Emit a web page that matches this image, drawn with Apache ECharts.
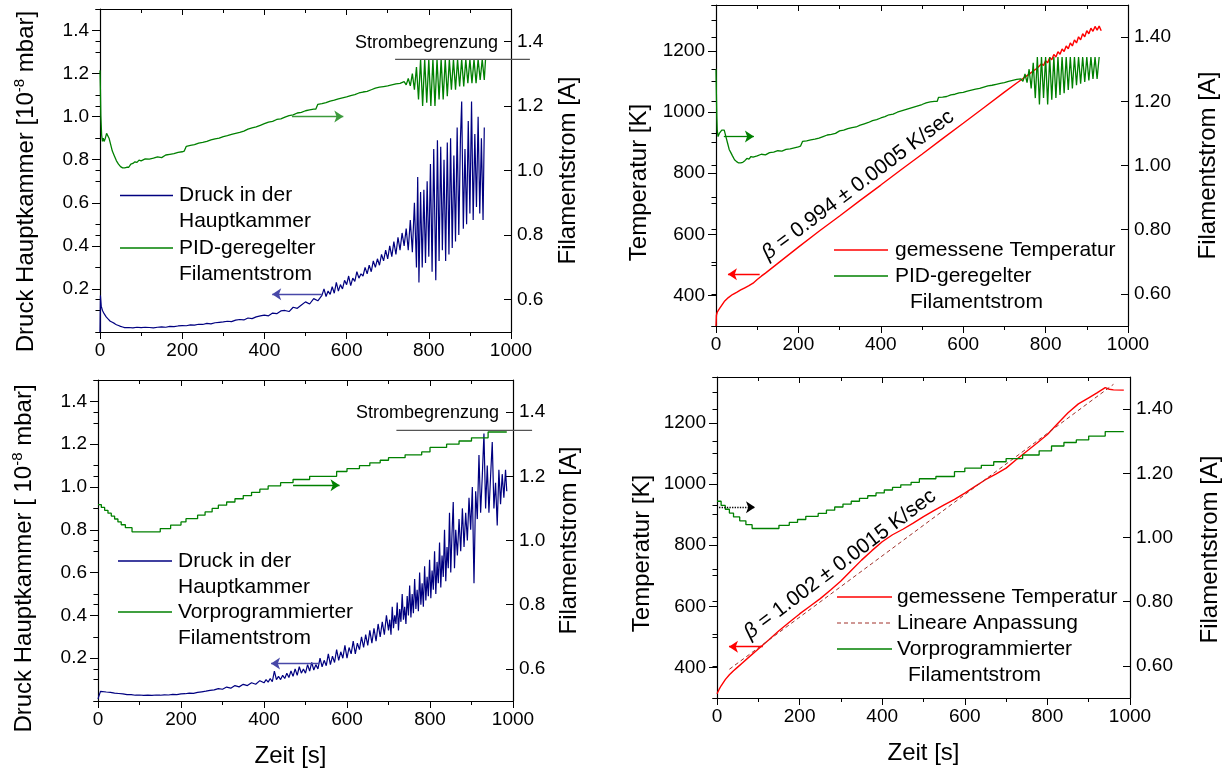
<!DOCTYPE html>
<html><head><meta charset="utf-8">
<script src="https://cdn.jsdelivr.net/npm/echarts@6/dist/echarts.min.js"></script>
<style>html,body{margin:0;padding:0;background:#fff}#c{width:1230px;height:776px}</style>
</head><body><div id="c"></div>
<script>
// ===================== DATA =====================
// time [s], pressure [1e-8 mbar] (top-left, PID regulated)
const tlPressure = [[0,0],[1,0.17],[3,0.12],[6,0.1],[10,0.085],[15,0.07],[20,0.06],[25,0.05],[30,0.045],[35,0.04],[40,0.034],[45,0.03],[50,0.026],[55,0.023],[60,0.02],[70,0.021],[80,0.019],[90,0.022],[100,0.02],[110,0.022],[120,0.021],[130,0.019],[140,0.022],[150,0.024],[160,0.022],[170,0.026],[180,0.025],[190,0.028],[200,0.03],[210,0.029],[220,0.033],[230,0.032],[240,0.036],[250,0.035],[260,0.04],[270,0.038],[280,0.043],[290,0.045],[300,0.047],[310,0.05],[320,0.048],[330,0.055],[340,0.058],[350,0.056],[360,0.065],[370,0.062],[380,0.07],[390,0.075],[400,0.078],[410,0.075],[420,0.088],[430,0.085],[440,0.098],[450,0.1],[460,0.095],[470,0.115],[480,0.11],[490,0.125],[500,0.14],[510,0.13],[520,0.155],[530,0.145],[540,0.17],[545,0.2],[550,0.165],[555,0.19],[560,0.175],[565,0.21],[570,0.18],[575,0.23],[580,0.19],[585,0.22],[590,0.2],[595,0.24],[600,0.22],[605,0.26],[610,0.215],[615,0.25],[620,0.235],[625,0.28],[630,0.25],[635,0.27],[640,0.26],[645,0.3],[650,0.27],[655,0.31],[660,0.28],[665,0.33],[670,0.3],[675,0.34],[680,0.31],[685,0.36],[690,0.33],[695,0.38],[700,0.34],[705,0.4],[710,0.35],[715,0.42],[720,0.36],[725,0.44],[730,0.38],[735,0.46],[740,0.4],[745,0.48],[750,0.38],[755,0.52],[760,0.37],[765,0.6],[770,0.3],[773,0.72],[776,0.23],[780,0.65],[784,0.3],[788,0.66],[792,0.32],[796,0.7],[800,0.35],[804,0.78],[808,0.28],[812,0.85],[817,0.24],[821,0.89],[825,0.33],[829,0.86],[833,0.38],[837,0.8],[841,0.33],[845,0.88],[849,0.36],[853,0.9],[857,0.39],[861,0.82],[865,0.42],[869,0.95],[873,0.45],[877,0.9],[880,1.07],[884,0.48],[888,0.85],[892,0.5],[896,0.98],[900,0.55],[904,1.07],[908,0.52],[912,0.92],[916,0.58],[920,1.0],[924,0.55],[928,0.9],[932,0.52],[935,0.95]];
// time [s], filament current [A] (top-left, PID regulated)
const tlCurrent = [[0,1.31],[1,1.25],[2,1.17],[4,1.11],[6,1.09],[8,1.1],[10,1.09],[13,1.1],[16,1.115],[19,1.12],[22,1.1],[26,1.08],[30,1.06],[35,1.045],[40,1.03],[45,1.02],[50,1.012],[55,1.008],[60,1.008],[65,1.01],[70,1.01],[75,1.02],[80,1.022],[85,1.027],[90,1.025],[95,1.032],[100,1.03],[110,1.036],[120,1.035],[130,1.038],[140,1.042],[150,1.04],[160,1.048],[170,1.05],[180,1.052],[190,1.056],[200,1.058],[205,1.06],[210,1.075],[220,1.078],[230,1.08],[240,1.085],[250,1.087],[260,1.09],[270,1.095],[280,1.098],[290,1.1],[300,1.105],[310,1.108],[320,1.112],[330,1.115],[340,1.118],[350,1.122],[360,1.128],[370,1.132],[380,1.135],[390,1.14],[400,1.145],[410,1.15],[420,1.152],[430,1.158],[440,1.16],[450,1.165],[460,1.17],[470,1.172],[480,1.178],[490,1.18],[500,1.185],[510,1.188],[520,1.19],[525,1.19],[530,1.205],[540,1.207],[550,1.21],[560,1.215],[570,1.218],[580,1.222],[590,1.225],[600,1.228],[610,1.232],[620,1.235],[630,1.24],[640,1.243],[650,1.245],[660,1.25],[670,1.255],[680,1.258],[690,1.26],[700,1.262],[710,1.265],[720,1.268],[730,1.27],[740,1.275],[745,1.265],[750,1.285],[755,1.262],[760,1.3],[765,1.25],[770,1.32],[775,1.22],[780,1.344],[785,1.2],[790,1.344],[795,1.21],[800,1.344],[805,1.2],[810,1.344],[815,1.2],[820,1.344],[825,1.22],[830,1.344],[835,1.22],[840,1.344],[845,1.23],[850,1.344],[855,1.25],[860,1.344],[865,1.25],[870,1.344],[875,1.26],[880,1.344],[885,1.26],[890,1.344],[895,1.27],[900,1.344],[905,1.27],[910,1.344],[915,1.27],[920,1.344],[925,1.28],[930,1.344],[935,1.28],[938,1.344]];
// time [s], temperature [K] (top-right)
const trTemperature = [[0,300],[1,335],[3,345],[6,352],[10,360],[15,370],[20,380],[30,393],[40,403],[50,410],[60,418],[70,425],[80,432],[90,440],[100,452],[110,463],[120,473],[150,505],[200,558],[250,610],[300,660],[350,711],[400,761],[450,812],[500,862],[550,913],[600,963],[650,1014],[700,1065],[730,1095],[760,1124],[780,1144],[790,1158],[795,1152],[800,1168],[805,1161],[810,1178],[815,1171],[820,1188],[825,1180],[830,1197],[835,1189],[840,1206],[845,1198],[850,1216],[855,1207],[860,1226],[865,1216],[870,1236],[875,1226],[880,1246],[885,1236],[890,1256],[895,1246],[900,1266],[905,1256],[910,1274],[915,1264],[920,1280],[925,1268],[930,1281],[935,1266]];
// time [s], filament current [A] (top-right)
const trCurrent = [[0,1.3],[1,1.22],[2,1.15],[3,1.11],[5,1.09],[8,1.1],[11,1.095],[14,1.11],[17,1.116],[20,1.11],[24,1.09],[28,1.07],[32,1.05],[36,1.04],[40,1.03],[45,1.018],[50,1.012],[55,1.008],[60,1.008],[65,1.01],[70,1.015],[75,1.022],[80,1.02],[85,1.028],[90,1.026],[100,1.03],[110,1.035],[120,1.033],[130,1.04],[140,1.042],[150,1.046],[160,1.045],[170,1.05],[180,1.052],[190,1.055],[200,1.058],[205,1.06],[210,1.075],[220,1.077],[230,1.08],[240,1.082],[250,1.085],[260,1.09],[270,1.095],[280,1.097],[290,1.1],[300,1.108],[310,1.11],[320,1.115],[330,1.118],[340,1.12],[350,1.126],[360,1.13],[370,1.134],[380,1.14],[390,1.143],[400,1.148],[410,1.152],[420,1.158],[430,1.16],[440,1.166],[450,1.17],[460,1.174],[470,1.178],[480,1.182],[490,1.186],[500,1.19],[510,1.195],[520,1.198],[530,1.2],[537,1.2],[540,1.212],[550,1.213],[560,1.215],[570,1.22],[580,1.222],[590,1.226],[600,1.228],[610,1.232],[620,1.235],[630,1.238],[640,1.24],[650,1.244],[660,1.248],[670,1.25],[680,1.253],[690,1.256],[700,1.258],[710,1.262],[720,1.265],[730,1.268],[740,1.27],[745,1.262],[750,1.285],[755,1.258],[760,1.3],[765,1.24],[770,1.32],[775,1.21],[780,1.338],[785,1.19],[790,1.338],[795,1.21],[800,1.338],[805,1.19],[810,1.338],[815,1.205],[820,1.338],[825,1.21],[830,1.338],[835,1.22],[840,1.338],[845,1.225],[850,1.338],[855,1.235],[860,1.338],[865,1.24],[870,1.338],[875,1.25],[880,1.338],[885,1.255],[890,1.338],[895,1.26],[900,1.338],[905,1.265],[910,1.338],[915,1.27],[920,1.338],[925,1.27],[930,1.338]];
// time [s], pressure [1e-8 mbar] (bottom-left, preprogrammed)
const blPressure = [[0,0.01],[4,0.01],[6,0.045],[10,0.044],[20,0.042],[30,0.04],[40,0.037],[50,0.035],[60,0.033],[70,0.03],[80,0.03],[90,0.027],[100,0.028],[110,0.026],[120,0.027],[130,0.026],[140,0.028],[150,0.027],[160,0.029],[170,0.028],[180,0.031],[190,0.03],[200,0.033],[210,0.034],[220,0.037],[230,0.036],[240,0.04],[250,0.043],[260,0.046],[270,0.05],[280,0.052],[290,0.058],[300,0.055],[310,0.065],[320,0.06],[330,0.072],[340,0.066],[350,0.078],[360,0.072],[370,0.085],[380,0.078],[390,0.095],[400,0.085],[405,0.1],[410,0.088],[415,0.105],[420,0.09],[425,0.14],[430,0.1],[435,0.115],[440,0.1],[445,0.12],[450,0.105],[455,0.13],[460,0.11],[465,0.14],[470,0.115],[475,0.15],[480,0.12],[485,0.16],[490,0.13],[495,0.15],[500,0.13],[505,0.17],[510,0.14],[515,0.18],[520,0.145],[525,0.17],[530,0.15],[535,0.2],[540,0.16],[545,0.19],[550,0.165],[555,0.22],[560,0.17],[565,0.21],[570,0.18],[575,0.24],[580,0.19],[585,0.23],[590,0.2],[595,0.26],[600,0.2],[605,0.25],[610,0.22],[615,0.28],[620,0.22],[625,0.27],[630,0.24],[635,0.3],[640,0.25],[645,0.31],[650,0.26],[655,0.33],[660,0.27],[665,0.34],[670,0.28],[675,0.36],[680,0.3],[685,0.37],[690,0.31],[695,0.4],[700,0.33],[703,0.38],[706,0.31],[709,0.44],[712,0.34],[715,0.4],[718,0.36],[721,0.46],[724,0.33],[727,0.43],[730,0.37],[733,0.5],[736,0.38],[739,0.44],[742,0.36],[745,0.49],[748,0.4],[751,0.54],[754,0.39],[757,0.5],[760,0.41],[763,0.57],[766,0.43],[769,0.52],[772,0.42],[775,0.6],[778,0.45],[781,0.55],[784,0.44],[787,0.63],[790,0.47],[793,0.58],[796,0.49],[799,0.66],[802,0.48],[805,0.61],[808,0.52],[811,0.7],[814,0.5],[817,0.65],[820,0.55],[823,0.74],[826,0.53],[829,0.68],[832,0.58],[835,0.8],[838,0.56],[841,0.72],[844,0.62],[847,0.88],[850,0.6],[853,0.78],[856,0.93],[859,0.62],[862,0.8],[866,0.68],[870,0.85],[874,0.7],[878,0.9],[882,0.72],[886,0.88],[890,0.75],[894,0.95],[898,0.8],[902,1.0],[906,0.55],[910,0.98],[914,0.85],[918,1.15],[922,0.88],[926,1.05],[930,1.25],[934,0.9],[938,1.1],[942,0.88],[946,1.05],[950,1.21],[954,0.9],[958,1.02],[962,0.82],[966,1.08],[970,0.92],[974,1.06],[978,0.95],[982,1.08],[985,0.98]];
// step start time [s], filament current [A] (bottom-left, preprogrammed)
const blCurrent = [[0,1.112],[8,1.103],[16,1.094],[24,1.085],[32,1.076],[40,1.067],[48,1.058],[56,1.049],[66,1.04],[82,1.027],[150,1.037],[175,1.048],[200,1.058],[212,1.068],[240,1.079],[258,1.089],[275,1.1],[290,1.11],[310,1.12],[330,1.13],[350,1.14],[370,1.15],[390,1.16],[410,1.17],[440,1.18],[470,1.19],[510,1.2],[575,1.215],[600,1.224],[630,1.233],[655,1.242],[680,1.25],[700,1.258],[740,1.267],[780,1.276],[800,1.29],[840,1.3],[870,1.31],[900,1.32],[940,1.338],[985,1.338]];
// time [s], temperature [K] (bottom-right)
const brTemperature = [[0,314],[5,328],[10,340],[20,360],[30,376],[40,389],[50,401],[60,413],[80,437],[100,460],[125,490],[150,520],[175,548],[200,575],[225,600],[250,625],[275,653],[300,683],[325,717],[350,751],[375,782],[400,811],[425,834],[450,852],[475,872],[500,893],[525,913],[550,932],[575,950],[600,970],[625,992],[650,1014],[675,1032],[700,1052],[725,1080],[750,1107],[775,1134],[800,1162],[825,1198],[850,1233],[875,1262],[900,1282],[920,1298],[940,1315],[950,1310],[960,1308],[985,1307]];
// linear fit (beta = 1.002 K/s)
const brFit = [[30,394],[960,1326]];
// step start time [s], filament current [A] (bottom-right)
const brCurrent = [[0,1.113],[10,1.1],[20,1.088],[30,1.076],[40,1.064],[55,1.052],[70,1.04],[85,1.028],[150,1.038],[175,1.047],[195,1.056],[215,1.066],[245,1.075],[265,1.085],[285,1.095],[305,1.104],[325,1.113],[345,1.122],[365,1.13],[385,1.139],[405,1.148],[425,1.156],[445,1.164],[470,1.172],[490,1.183],[530,1.19],[575,1.205],[600,1.216],[640,1.225],[670,1.236],[700,1.246],[740,1.257],[780,1.27],[810,1.285],[840,1.296],[870,1.304],[900,1.316],[940,1.33],[985,1.33]];
// current limit ("Strombegrenzung") reference lines: [xStart, xEnd, current]
const limitTL = [718, 1046, 1.344];
const limitBL = [719, 1046, 1.343];
// heating-rate annotations: [x, T]
const betaTR = {x:345, y:761, text:'0.994 ± 0.0005 K/sec'};
const betaBR = {x:298, y:737, text:'1.002 ± 0.0015 K/sec'};

// ===================== STYLE / LAYOUT =====================
const FONT = "'Liberation Sans', Arial, sans-serif";
const BLUE = '#000080', GREEN = '#008000', RED = '#ff0000', FIT = '#a0302a';
const grids = [
  {left:100, top:9, width:411, height:323},
  {left:716, top:5, width:412, height:321},
  {left:98, top:380, width:415, height:321},
  {left:717, top:377, width:413, height:321}
];
const TICKFS = 19;

function xAxes(g, withName) {
  return [{
    type:'value', gridIndex:g, position:'bottom', min:0, max:1000, interval:200,
    axisLine:{show:true, onZero:false, lineStyle:{color:'#000', width:1.2}},
    axisTick:{show:true, inside:false, length:7, lineStyle:{color:'#000', width:1}},
    minorTick:{show:true, splitNumber:2, length:4, lineStyle:{color:'#000', width:1}},
    axisLabel:{color:'#000', fontFamily:FONT, fontSize:TICKFS, margin:9, formatter: v => String(v)},
    splitLine:{show:false}, minorSplitLine:{show:false},
    name: withName ? 'Zeit [s]' : '', nameLocation:'middle', nameGap:43,
    nameTextStyle:{color:'#000', fontFamily:FONT, fontSize:24, padding: g===2 ? [0,30,0,0] : 0}
  },{
    type:'value', gridIndex:g, position:'top', min:0, max:1000, interval:200,
    axisLine:{show:true, onZero:false, lineStyle:{color:'#000', width:1.2}},
    axisTick:{show:true, inside:true, length:6, lineStyle:{color:'#000', width:1}},
    minorTick:{show:true, splitNumber:2, length:4, lineStyle:{color:'#000', width:1}},
    axisLabel:{show:false}, splitLine:{show:false}
  }];
}
function nameStyle(pad) {
  return {color:'#000', fontFamily:FONT, fontSize:24, padding:[0,pad,0,0],
    rich:{n:{fontFamily:FONT, fontSize:24, color:'#000', lineHeight:28},
          s:{fontFamily:FONT, fontSize:15, color:'#000', verticalAlign:'top', lineHeight:16}}};
}
function yLeft(g, kind, name, gap, pad) {
  const isP = kind === 'p';
  const main = {
    type:'value', gridIndex:g, position:'left',
    min: isP ? 0 : 300, max: isP ? 1.5 : 1350,
    axisLine:{show:true, onZero:false, lineStyle:{color:'#000', width:1.2}},
    axisTick:{show:true, inside:false, length:8, lineStyle:{color:'#000', width:1}},
    axisLabel:{color:'#000', fontFamily:FONT, fontSize:TICKFS, margin:11, showMinLabel:false, showMaxLabel:false,
      formatter: v => isP ? v.toFixed(1) : String(Math.round(v))},
    splitLine:{show:false},
    name:name, nameLocation:'middle', nameRotate:90, nameGap:gap, nameTextStyle:nameStyle(pad)
  };
  if (isP) main.interval = 0.2; else main.splitNumber = 5;
  const minor = {
    type:'value', gridIndex:g, position:'left', min:main.min, max:main.max, interval: isP ? 0.1 : 100,
    axisLine:{show:false}, axisLabel:{show:false}, splitLine:{show:false},
    axisTick:{show:true, inside:false, length:4.5, lineStyle:{color:'#000', width:1}}
  };
  return [main, minor];
}
function yRight(g, decimals, gap, pad) {
  const main = {
    type:'value', gridIndex:g, position:'right', min:0.5, max:1.5, splitNumber:5,
    axisLine:{show:true, onZero:false, lineStyle:{color:'#000', width:1.2}},
    axisTick:{show:true, inside:true, length:7, lineStyle:{color:'#000', width:1}},
    axisLabel:{color:'#000', fontFamily:FONT, fontSize:TICKFS, margin:6, showMinLabel:false, showMaxLabel:false,
      formatter: v => v.toFixed(decimals)},
    splitLine:{show:false},
    name:'Filamentstrom [A]', nameLocation:'middle', nameRotate:90, nameGap:gap,
    nameTextStyle:{color:'#000', fontFamily:FONT, fontSize:24, padding:[0,pad,0,0]}
  };
  const minor = {
    type:'value', gridIndex:g, position:'right', min:0.5, max:1.5, interval:0.1,
    axisLine:{show:false}, axisLabel:{show:false}, splitLine:{show:false},
    axisTick:{show:true, inside:true, length:4.5, lineStyle:{color:'#000', width:1}}
  };
  return [main, minor];
}

const xAxis = [].concat(xAxes(0,false), xAxes(1,false), xAxes(2,true), xAxes(3,true));
const yAxis = [].concat(
  yLeft(0,'p','{n|Druck Hauptkammer [10}{s|-8}{n| mbar]}',60,22), yRight(0,1,45,0),
  yLeft(1,'t','Temperatur [K]',65,34), yRight(1,2,68,0),
  yLeft(2,'p','{n|Druck Hauptkammer [ 10}{s|-8}{n| mbar]}',60,36), yRight(2,1,44,0),
  yLeft(3,'t','Temperatur [K]',63,32), yRight(3,2,68,24)
);
// axis indices: x bottom = 2g ; y left = 4g ; y right = 4g+2
function arrow(from, to, color, type) {
  return {silent:true, symbol:['none','arrow'], symbolSize:9, label:{show:false}, animation:false,
    lineStyle:{color:color, width:1.3, type:type||'solid'}, itemStyle:{color:color},
    emphasis:{disabled:true},
    data:[[{coord:from},{coord:to}]]};
}
function line(name, g, right, data, color, width, extra) {
  return Object.assign({name, type:'line', xAxisIndex:2*g, yAxisIndex: right ? 4*g+2 : 4*g,
    data, showSymbol:false, symbol:'none', lineStyle:{color, width}, itemStyle:{color},
    emphasis:{disabled:true}, animation:false}, extra||{});
}
const series = [
  line('Druck in der Hauptkammer', 0, false, tlPressure, BLUE, 1.2, {markLine: arrow([540,0.175],[419,0.175],'#4848a8')}),
  line('PID-geregelter Filamentstrom', 0, true, tlCurrent, GREEN, 1.3, {markLine: arrow([467,1.167],[592,1.167],'#3c9a3c')}),
  line('gemessene Temperatur', 1, false, trTemperature, RED, 1.4, {markLine: arrow([106,469],[29,469],RED)}),
  line('PID-geregelter Filamentstrom ', 1, true, trCurrent, GREEN, 1.3, {markLine: arrow([19,1.09],[92,1.09],GREEN)}),
  line('Druck in der Hauptkammer ', 2, false, blPressure, BLUE, 1.2, {markLine: arrow([533,0.175],[417,0.175],'#4848a8')}),
  line('Vorprogrammierter Filamentstrom', 2, true, blCurrent, GREEN, 1.3, {step:'end', markLine: arrow([470,1.172],[582,1.172],GREEN)}),
  line('gemessene Temperatur ', 3, false, brTemperature, RED, 1.4, {markLine: arrow([111,468],[29,468],RED)}),
  line('Lineare Anpassung', 3, false, brFit, FIT, 1, {lineStyle:{color:FIT, width:1, type:[4,3]}}),
  line('Vorprogrammierter Filamentstrom ', 3, true, brCurrent, GREEN, 1.3, {step:'end', markLine: arrow([5,1.094],[92,1.094],'#000','dotted')})
];

const chart = echarts.init(document.getElementById('c'));
chart.setOption({animation:false, backgroundColor:'#fff', grid:grids, xAxis, yAxis, series});

// ===================== ANNOTATIONS / LEGENDS =====================
const LFS = 21;
function txt(x, y, text, style) {
  return {type:'text', x, y, silent:true,
    style:Object.assign({text, fill:'#000', fontFamily:FONT, fontSize:LFS, align:'left', verticalAlign:'middle'}, style||{})};
}
function seg(x1, x2, y, color, dash) {
  return {type:'line', silent:true, shape:{x1, y1:y, x2, y2:y},
    style:{stroke:color, lineWidth: dash ? 1 : 1.5, lineDash: dash || null}};
}
const g = [];
// current-limit lines in data coordinates of the right axis (extend beyond the frame)
[[0, limitTL], [2, limitBL]].forEach(([gi, L]) => {
  const a = chart.convertToPixel({xAxisIndex:2*gi, yAxisIndex:4*gi+2}, [L[0], L[2]]);
  const b = chart.convertToPixel({xAxisIndex:2*gi, yAxisIndex:4*gi+2}, [L[1], L[2]]);
  g.push({type:'line', silent:true, z:10, shape:{x1:a[0], y1:a[1], x2:b[0], y2:b[1]}, style:{stroke:'#555', lineWidth:1.3}});
});
// top-left legend
g.push(seg(120,173,195.5,BLUE), seg(120,173,248,GREEN));
g.push(txt(179,195.5,'Druck in der'), txt(179,221,'Hauptkammer'), txt(179,248,'PID-geregelter'), txt(179,274,'Filamentstrom'));
g.push(txt(498,43,'Strombegrenzung',{align:'right', fontSize:18}));
// top-right legend
g.push(seg(834,888,250,RED), seg(834,888,276,GREEN));
g.push(txt(895,250,'gemessene Temperatur'), txt(895,276,'PID-geregelter'), txt(910,302,'Filamentstrom'));
// bottom-left legend
g.push(seg(118,172,561,BLUE), seg(118,172,612,GREEN));
g.push(txt(178,561,'Druck in der'), txt(178,587,'Hauptkammer'), txt(178,612,'Vorprogrammierter'), txt(178,638,'Filamentstrom'));
g.push(txt(499,413,'Strombegrenzung',{align:'right', fontSize:18}));
// bottom-right legend
g.push(seg(837,892,597,RED), seg(837,892,623,FIT,[4,3]), seg(837,892,649,GREEN));
g.push(txt(897,597,'gemessene Temperatur'), txt(897,623,'Lineare Anpassung'), txt(897,649,'Vorprogrammierter'), txt(908,675,'Filamentstrom'));
// heating-rate annotations placed in data coordinates
const rot = 37 * Math.PI / 180;
[[1, betaTR], [3, betaBR]].forEach(([gi, b]) => {
  const p = chart.convertToPixel({xAxisIndex:2*gi, yAxisIndex:4*gi}, [b.x, b.y]);
  g.push({type:'text', x:p[0], y:p[1], rotation:rot, silent:true,
    style:{text:'{b|β} = ' + b.text, fill:'#000', fontFamily:FONT, fontSize:21, align:'center', verticalAlign:'middle',
      rich:{b:{fontStyle:'italic', fontFamily:FONT, fontSize:21, fill:'#000'}}}});
});
chart.setOption({graphic:g});
</script></body></html>
